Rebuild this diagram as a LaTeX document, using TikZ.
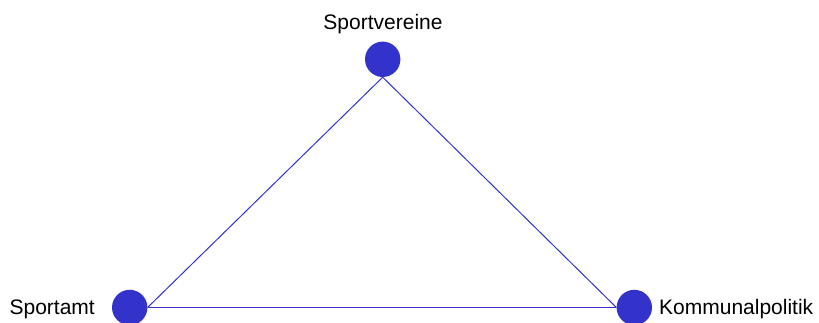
\documentclass[tikz,border=0pt]{standalone}
\usepackage{fontspec}
\setmainfont{Liberation Sans}
\definecolor{netblue}{HTML}{3333CC}

\begin{document}
\begin{tikzpicture}[x=1pt, y=1pt,
    actor/.style={circle, fill=netblue, minimum size=35.4pt, inner sep=0pt},
    link/.style={netblue, line width=1pt},
    actorlabel/.style={inner sep=0pt, font=\fontsize{21}{25}\selectfont}]
    \useasboundingbox (0,0) rectangle (819,322);

    % Actors
    \node[actor] (verein) at (382.7,262.7) {};
    \node[actor] (amt) at (129.7,14.5) {};
    \node[actor] (politik) at (634.3,14.5) {};

    % Labels
    \node[actorlabel, anchor=base] (vereinlabel) at (383,292.7) {Sportvereine};
    \node[actorlabel, anchor=base east] (amtlabel) at (95,7.5) {Sportamt};
    \node[actorlabel, anchor=base west] (politiklabel) at (659,7.7) {Kommunalpolitik};

    % Links between the actors
    \draw[link] (verein.south) -- (amt.east);
    \draw[link] (verein.south) -- (politik.west);
    \draw[link] (amt.east) -- (politik.west);
\end{tikzpicture}
\end{document}
